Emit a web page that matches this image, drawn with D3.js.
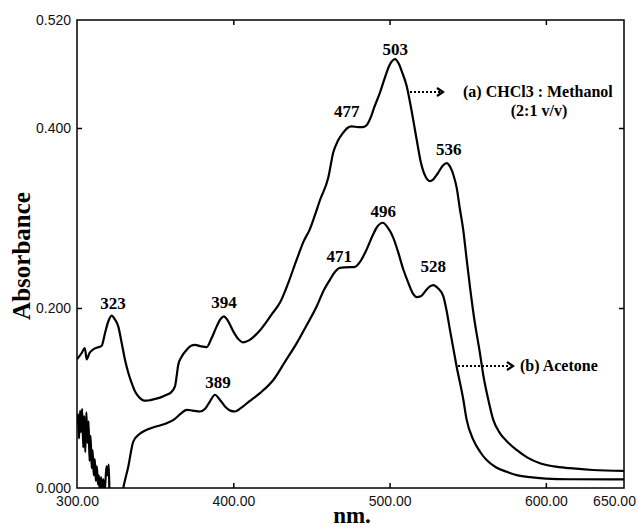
<!DOCTYPE html>
<html>
<head>
<meta charset="utf-8">
<script src="https://cdn.jsdelivr.net/npm/d3@7"></script>
<style>
  body { margin: 0; background: #fff; }
  svg { display: block; }
</style>
</head>
<body>
<div id="chart"></div>
<script>
// spectrum (a) CHCl3 : Methanol (2:1 v/v)
const nmA = [300, 303, 305, 306.2, 308, 310.4, 313, 315.8, 317.9, 320, 322.2, 324, 326.4, 328.5, 330.7, 333, 335, 337.5, 340.3, 343, 345.6, 350, 354, 357.4, 360, 362.7, 363.5, 364.8, 367, 370.2, 373, 375.5, 379, 383, 386, 389.4, 392, 394, 396.5, 400, 403, 406.4, 410, 413, 417, 421, 425, 429.9, 435, 440.6, 445, 449.1, 452, 455.5, 460.8, 464, 467, 470.4, 473, 475.7, 480, 483, 485.3, 488, 490, 493.9, 497, 500, 503.5, 506, 508, 510.9, 514, 517.3, 520, 523, 525.8, 528, 531, 534, 536.5, 539, 541, 542.9, 545, 547.2, 549, 551.4, 554, 557.8, 560, 563.2, 566.3, 570.6, 575, 581.3, 588, 596.2, 605, 615.4, 630, 650]
const absA = [0.143, 0.150, 0.1555, 0.143, 0.150, 0.154, 0.156, 0.158, 0.172, 0.185, 0.1915, 0.188, 0.1796, 0.162, 0.1425, 0.127, 0.1166, 0.106, 0.0999, 0.097, 0.0972, 0.099, 0.101, 0.1036, 0.106, 0.1128, 0.121, 0.137, 0.146, 0.1537, 0.158, 0.159, 0.1575, 0.1565, 0.166, 0.1796, 0.188, 0.1907, 0.186, 0.174, 0.166, 0.1618, 0.164, 0.168, 0.175, 0.184, 0.194, 0.206, 0.227, 0.254, 0.274, 0.288, 0.302, 0.320, 0.345, 0.373, 0.386, 0.395, 0.400, 0.4017, 0.401, 0.401, 0.403, 0.412, 0.422, 0.4395, 0.456, 0.470, 0.4766, 0.471, 0.462, 0.447, 0.420, 0.3875, 0.362, 0.346, 0.341, 0.343, 0.350, 0.358, 0.361, 0.356, 0.347, 0.334, 0.310, 0.286, 0.259, 0.224, 0.190, 0.150, 0.125, 0.098, 0.076, 0.061, 0.052, 0.0423, 0.034, 0.0275, 0.024, 0.022, 0.020, 0.019]

// spectrum (b) Acetone
const nmB = [300, 300.7, 301.3, 302, 302.6, 303.3, 304, 304.6, 305.3, 306, 306.7, 307.4, 308, 308.7, 309.4, 310, 310.7, 311.4, 312, 312.7, 313.4, 314, 314.7, 315.4, 316, 316.8, 317.5, 318.2, 318.9, 319.6, 320.3, 321, 325, 328.5, 329.6, 332.8, 336, 340, 344.6, 350, 357.4, 362, 366, 370.2, 374, 378.7, 382, 385, 388.3, 391, 395, 398, 401.1, 405, 410, 417.1, 425.6, 433, 440.6, 447, 453.4, 458, 461.9, 465, 468.3, 472, 477.9, 481, 485.3, 489, 492, 495.6, 499, 502.4, 505.5, 508.8, 512, 515, 517.3, 520, 523, 525.8, 528, 531, 534.4, 536.5, 538.6, 542.9, 547.2, 549.3, 553.6, 558, 562.1, 568, 574.9, 582, 589.8, 600, 615.4, 650]
const absB = [0.070, 0.082, 0.055, 0.086, 0.062, 0.088, 0.045, 0.080, 0.040, 0.084, 0.050, 0.074, 0.030, 0.058, 0.022, 0.042, 0.014, 0.032, 0.008, 0.024, 0.004, 0.014, -0.005, 0.012, -0.004, 0.010, -0.005, 0.008, 0.024, 0.014, 0.026, -0.02, -0.03, -0.01, 0.000, 0.0237, 0.0516, 0.060, 0.0646, 0.068, 0.072, 0.076, 0.082, 0.0869, 0.086, 0.085, 0.088, 0.096, 0.1036, 0.099, 0.090, 0.086, 0.085, 0.089, 0.096, 0.1055, 0.120, 0.140, 0.161, 0.181, 0.202, 0.220, 0.2316, 0.240, 0.2446, 0.2452, 0.2457, 0.251, 0.265, 0.280, 0.290, 0.2947, 0.289, 0.278, 0.262, 0.2428, 0.228, 0.216, 0.212, 0.213, 0.219, 0.224, 0.2255, 0.222, 0.213, 0.197, 0.176, 0.135, 0.098, 0.076, 0.0535, 0.040, 0.031, 0.023, 0.018, 0.014, 0.012, 0.0105, 0.0097, 0.0095]

const peaksA = [323, 394, 477, 503, 536]
const peaksB = [389, 471, 496, 528]
const xTicks = [300, 400, 500, 600, 650]
const yTicks = [0, 0.2, 0.4, 0.52]

const width = 639
const height = 530
const margin = { top: 20, right: 15, bottom: 42, left: 77 }
const innerW = width - margin.left - margin.right
const innerH = height - margin.top - margin.bottom

const svg = d3.select('#chart')
  .append('svg')
  .attr('width', width)
  .attr('height', height)

const g = svg.append('g')
  .attr('transform', `translate(${margin.left}, ${margin.top})`)

const x = d3.scaleLinear().domain([300, 650]).range([0, innerW])
const y = d3.scaleLinear().domain([0, 0.52]).range([innerH, 0])

g.append('clipPath')
  .attr('id', 'plot-clip')
  .append('rect')
  .attr('width', innerW)
  .attr('height', innerH)

const line = d3.line()
  .x(d => x(d[0]))
  .y(d => y(d[1]))
  .curve(d3.curveMonotoneX)

const seriesA = nmA.map((v, i) => [v, absA[i]])
const seriesB = nmB.map((v, i) => [v, absB[i]])

g.selectAll('.spectrum')
  .data([seriesA, seriesB])
  .enter()
  .append('path')
  .attr('class', 'spectrum')
  .attr('clip-path', 'url(#plot-clip)')
  .attr('fill', 'none')
  .attr('stroke', '#000')
  .attr('stroke-width', 2.2)
  .attr('stroke-linejoin', 'round')
  .attr('d', line)

// axes, ticks point inward
const fmtX = d3.format('.2f')
const fmtY = d3.format('.3f')

const xAxis = g.append('g')
  .attr('transform', `translate(0, ${innerH})`)
  .call(d3.axisBottom(x).tickValues(xTicks).tickSize(-5).tickPadding(8).tickFormat(fmtX))
xAxis.selectAll('.tick').filter(d => d === 300 || d === 650).select('line').remove()
xAxis.selectAll('.tick').filter(d => d === 650).select('text').attr('dx', -10)

const yAxis = g.append('g')
  .call(d3.axisLeft(y).tickValues(yTicks).tickSize(-5).tickPadding(6).tickFormat(fmtY))
yAxis.selectAll('.tick').filter(d => d === 0 || d === 0.52).select('line').remove()

g.append('g')
  .call(d3.axisTop(x).tickValues([400, 500, 600]).tickSize(-5).tickFormat(''))
g.append('g')
  .attr('transform', `translate(${innerW}, 0)`)
  .call(d3.axisRight(y).tickValues([0.2, 0.4]).tickSize(-5).tickFormat(''))

g.selectAll('.domain').remove()
g.selectAll('.tick line').attr('stroke', '#000').attr('stroke-width', 1.5)
g.selectAll('.tick text')
  .attr('fill', '#111')
  .style('font-family', '"Liberation Sans", Arial, sans-serif')
  .style('font-size', '14px')

g.append('rect')
  .attr('width', innerW)
  .attr('height', innerH)
  .attr('fill', 'none')
  .attr('stroke', '#000')
  .attr('stroke-width', 1.5)

// peak labels
const serif = '"Liberation Serif", "Times New Roman", serif'
const labelShift = { 323: [0, -7], 394: [0, -8], 477: [-7, -9], 503: [1, -4], 536: [3, -8],
                     389: [2, -7], 471: [-5, -5], 496: [0, -6], 528: [0, -13] }

const peakValue = (series, nm) => series.reduce((a, b) => Math.abs(b[0] - nm) < Math.abs(a[0] - nm) ? b : a)[1]

const peakData = peaksA.map(p => ({ nm: p, v: peakValue(seriesA, p) }))
  .concat(peaksB.map(p => ({ nm: p, v: peakValue(seriesB, p) })))

g.selectAll('.peak')
  .data(peakData)
  .enter()
  .append('text')
  .attr('class', 'peak')
  .attr('x', d => x(d.nm) + labelShift[d.nm][0])
  .attr('y', d => y(d.v) + labelShift[d.nm][1])
  .attr('text-anchor', 'middle')
  .style('font-family', serif)
  .style('font-weight', 'bold')
  .style('font-size', '17px')
  .text(d => d.nm)

// dotted arrows with legend text
const arrow = (x1, x2, yy) => {
  g.append('line')
    .attr('x1', x1).attr('x2', x2 - 3)
    .attr('y1', yy).attr('y2', yy)
    .attr('stroke', '#000')
    .attr('stroke-width', 2)
    .attr('stroke-dasharray', '2,2')
  g.append('path')
    .attr('d', `M${x2 - 6},${yy - 4}L${x2},${yy}L${x2 - 6},${yy + 4}`)
    .attr('fill', 'none')
    .attr('stroke', '#000')
    .attr('stroke-width', 2.2)
}

arrow(410 - margin.left, 443 - margin.left, 92 - margin.top)
arrow(458 - margin.left, 513 - margin.left, 366 - margin.top)

const legendText = (tx, ty, txt, anchor) => g.append('text')
  .attr('x', tx - margin.left)
  .attr('y', ty - margin.top)
  .attr('text-anchor', anchor)
  .style('font-family', serif)
  .style('font-weight', 'bold')
  .style('font-size', '16px')
  .text(txt)

legendText(463, 97, '(a) CHCl3 : Methanol', 'start')
legendText(539, 116, '(2:1 v/v)', 'middle')
legendText(520, 371, '(b) Acetone', 'start')

// axis titles
svg.append('text')
  .attr('transform', `translate(30, 256) rotate(-90)`)
  .attr('text-anchor', 'middle')
  .style('font-family', serif)
  .style('font-weight', 'bold')
  .style('font-size', '25px')
  .text('Absorbance')

svg.append('text')
  .attr('x', 352)
  .attr('y', 523)
  .attr('text-anchor', 'middle')
  .style('font-family', serif)
  .style('font-weight', 'bold')
  .style('font-size', '23px')
  .text('nm.')
</script>
</body>
</html>
